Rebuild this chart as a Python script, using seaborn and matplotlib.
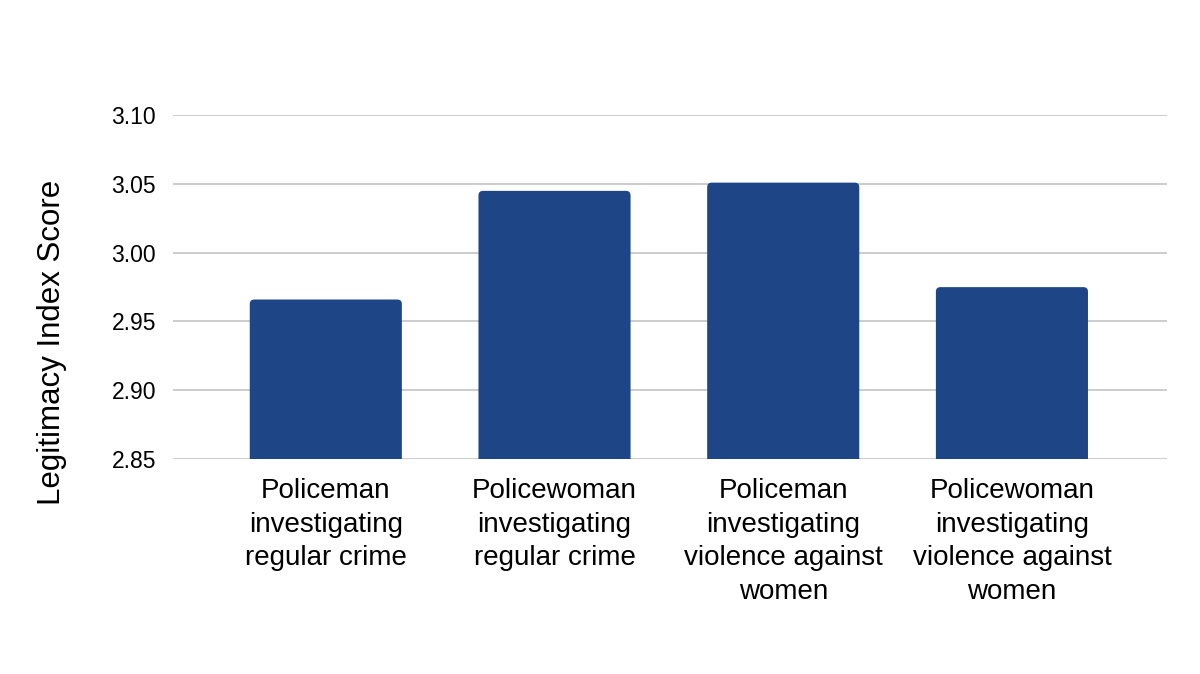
import numpy as np
import pandas as pd
import matplotlib
matplotlib.use("Agg")
import matplotlib.pyplot as plt
import seaborn as sns
from matplotlib.patches import FancyBboxPatch

# ─── data ────────────────────────────────────────────────────────────────────
categories = [
    "Policeman\ninvestigating\nregular crime",
    "Policewoman\ninvestigating\nregular crime",
    "Policeman\ninvestigating\nviolence against\nwomen",
    "Policewoman\ninvestigating\nviolence against\nwomen",
]
scores = [2.966, 3.045, 3.051, 2.975]
y_ticks = [2.85, 2.90, 2.95, 3.00, 3.05, 3.10]

df = pd.DataFrame({"group": categories, "score": scores})

BAR = "#1e4687"
GRID = "#c8c8c8"

sns.set_style("white")
plt.rcParams["font.family"] = ["Liberation Sans", "DejaVu Sans"]
plt.rcParams["text.color"] = "black"
plt.rcParams["xtick.color"] = "black"
plt.rcParams["ytick.color"] = "black"
plt.rcParams["axes.labelcolor"] = "black"

fig = plt.figure(figsize=(12, 6.74), dpi=100)
ax = fig.add_axes([0.144, 0.319, 0.8285, 0.51])

sns.barplot(data=df, x="group", y="score", color=BAR, width=0.665,
            saturation=1, ax=ax, zorder=2)

# rounded bar tops, like the original chart
for p in list(ax.patches):
    fb = FancyBboxPatch((p.get_x(), p.get_y()), p.get_width(), p.get_height(),
                        boxstyle="round,pad=0,rounding_size=0.02",
                        mutation_aspect=0.165, facecolor=BAR,
                        edgecolor="none", zorder=2)
    ax.add_patch(fb)
    p.remove()

ax.set_ylim(2.85, 3.10)
ax.set_xlim(-0.669, 3.678)
ax.set_yticks(y_ticks)
ax.set_yticklabels([f"{v:.2f}" for v in y_ticks], fontsize=16.5)
ax.yaxis.grid(True, color=GRID, lw=1.3, zorder=0)
ax.xaxis.grid(False)
for s in ax.spines.values():
    s.set_visible(False)
ax.tick_params(axis="y", length=0, pad=12)
ax.tick_params(axis="x", length=0, pad=14)
for lbl in ax.get_xticklabels():
    lbl.set_fontsize(20)
    lbl.set_linespacing(1.37)
    lbl.set_va("top")

ax.set_xlabel("")
ax.set_ylabel("Legitimacy Index Score", fontsize=22.5)
ax.yaxis.set_label_coords(-0.106, 0.34, transform=ax.transAxes)

fig.savefig("out.png", dpi=100, facecolor="white")
